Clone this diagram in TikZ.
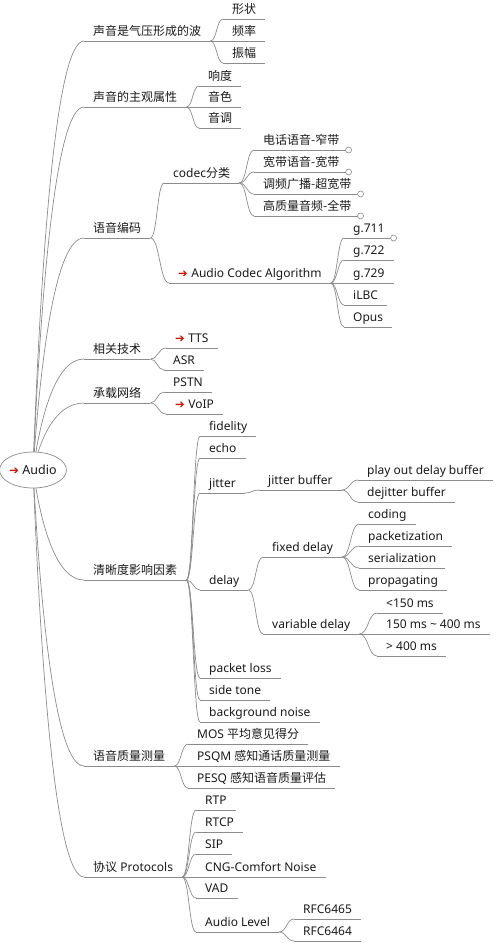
\documentclass[tikz,border=0pt]{standalone}
\usepackage{fontspec}
\setmainfont{Noto Sans}
\newfontfamily\cjk{Noto Sans CJK SC}
\newfontfamily\symf{DejaVu Sans}
\usetikzlibrary{calc,shapes.geometric}
\definecolor{linec}{HTML}{8C8C8C}
\definecolor{txtc}{HTML}{1A1A1A}
\definecolor{arrc}{HTML}{CC1100}
\newcommand{\ra}{{\symf\color{arrc}\fontsize{11.5}{11.5}\selectfont ➔}\hspace{3.5pt}}
\newcommand{\zh}[1]{{\cjk #1}}
\newcommand{\conn}[2]{\draw[edge] let \p1=(#1.south east), \p2=(#2.south west) in (\p1) .. controls ({0.5*(\x1+\x2)},\y1) and ({0.5*(\x1+\x2)},\y2) .. (\p2);}
\newcommand{\rconn}[1]{\draw[edge] let \p1=(rc), \p2=(#1.south west) in (\p1) .. controls ({\x1+8pt},{0.5*(\y1+\y2)}) and ({\x2-28pt},\y2) .. (\p2);}
\begin{document}
\begin{tikzpicture}[x=1pt,y=-1pt,
  edge/.style={draw=linec, line width=0.7pt},
  item/.style={anchor=south west, inner xsep=9pt, inner ysep=2pt, text height=9pt, text depth=3pt,
    font=\fontsize{12}{14}\selectfont, text=txtc,
    append after command={\pgfextra{\draw[edge] (\tikzlastnode.south west) -- (\tikzlastnode.south east);}}},
  dot/.style={circle, draw=linec, fill=white, line width=0.6pt, minimum size=6pt, inner sep=0pt},
  rootst/.style={ellipse, draw=linec, fill=white, line width=0.7pt, minimum width=66pt, minimum height=36pt, inner sep=0pt,
    font=\fontsize{12.5}{14}\selectfont, text=txtc}]
\useasboundingbox (0,0) rectangle (497,943);
\coordinate (rc) at (33,470);
% level 1
\node[item] (A1) at (84,41) {\zh{声音是气压形成的波}};
\node[item] (A2) at (84,107) {\zh{声音的主观属性}};
\node[item] (A3) at (84,238) {\zh{语音编码}};
\node[item] (A4) at (84,359) {\zh{相关技术}};
\node[item] (A5) at (84,403) {\zh{承载网络}};
\node[item] (A6) at (84,580) {\zh{清晰度影响因素}};
\node[item] (A7) at (84,766) {\zh{语音质量测量}};
\node[item] (A8) at (84,877) {\zh{协议} Protocols};
% A1
\node[item] (B11) at (223,19) {\zh{形状}};
\node[item] (B12) at (223,41) {\zh{频率}};
\node[item] (B13) at (223,63) {\zh{振幅}};
% A2
\node[item] (B21) at (199,86) {\zh{响度}};
\node[item] (B22) at (199,107) {\zh{音色}};
\node[item] (B23) at (199,128) {\zh{音调}};
% A3
\node[item] (B31) at (164,183) {codec\zh{分类}};
\node[item] (B32) at (169,283) {\ra Audio Codec Algorithm};
\node[item] (C1) at (254,150) {\zh{电话语音-窄带}};
\node[item] (C2) at (254,172) {\zh{宽带语音-宽带}};
\node[item] (C3) at (254,194) {\zh{调频广播-超宽带}};
\node[item] (C4) at (254,216) {\zh{高质量音频-全带}};
\node[item] (D1) at (344,238) {g.711};
\node[item] (D2) at (344,260) {g.722};
\node[item] (D3) at (344,283) {g.729};
\node[item] (D4) at (344,305) {iLBC};
\node[item] (D5) at (344,327) {Opus};
% A4, A5
\node[item] (E1) at (166,348) {\ra TTS};
\node[item] (E2) at (164,370) {ASR};
\node[item] (F1) at (164,392) {PSTN};
\node[item] (F2) at (166,414) {\ra VoIP};
% A6
\node[item] (G1) at (200,436) {fidelity};
\node[item] (G2) at (200,458) {echo};
\node[item] (G3) at (200,493) {jitter};
\node[item] (G4) at (200,590) {delay};
\node[item] (G5) at (200,678) {packet loss};
\node[item] (G6) at (200,700) {side tone};
\node[item] (G7) at (200,722) {background noise};
\node[item] (H) at (259,490) {jitter buffer};
\node[item] (H1) at (358,480) {play out delay buffer};
\node[item] (H2) at (358,502) {dejitter buffer};
\node[item] (I) at (263,557) {fixed delay};
\node[item] (J) at (263,634) {variable delay};
\node[item] (I1) at (359,524) {coding};
\node[item] (I2) at (359,546) {packetization};
\node[item] (I3) at (359,568) {serialization};
\node[item] (I4) at (359,590) {propagating};
\node[item] (J1) at (377,613) {<150 ms};
\node[item] (J2) at (377,634) {150 ms \textasciitilde\ 400 ms};
\node[item] (J3) at (377,656) {> 400 ms};
% A7
\node[item] (K1) at (188,744) {MOS \zh{平均意见得分}};
\node[item] (K2) at (188,766) {PSQM \zh{感知通话质量测量}};
\node[item] (K3) at (188,788) {PESQ \zh{感知语音质量评估}};
% A8
\node[item] (L1) at (196,810) {RTP};
\node[item] (L2) at (196,832) {RTCP};
\node[item] (L3) at (196,854) {SIP};
\node[item] (L4) at (196,877) {CNG-Comfort Noise};
\node[item] (L5) at (196,898) {VAD};
\node[item] (L6) at (196,932) {Audio Level};
\node[item] (M1) at (294,919) {RFC6465};
\node[item] (M2) at (294,941) {RFC6464};
% connectors
\foreach \nd in {A1,A2,A3,A4,A5,A6,A7,A8} {\rconn{\nd}}
\foreach \nd in {B11,B12,B13} {\conn{A1}{\nd}}
\foreach \nd in {B21,B22,B23} {\conn{A2}{\nd}}
\foreach \nd in {B31,B32} {\conn{A3}{\nd}}
\foreach \nd in {C1,C2,C3,C4} {\conn{B31}{\nd}}
\foreach \nd in {D1,D2,D3,D4,D5} {\conn{B32}{\nd}}
\foreach \nd in {E1,E2} {\conn{A4}{\nd}}
\foreach \nd in {F1,F2} {\conn{A5}{\nd}}
\foreach \nd in {G1,G2,G3,G4,G5,G6,G7} {\conn{A6}{\nd}}
\conn{G3}{H}
\foreach \nd in {H1,H2} {\conn{H}{\nd}}
\foreach \nd in {I,J} {\conn{G4}{\nd}}
\foreach \nd in {I1,I2,I3,I4} {\conn{I}{\nd}}
\foreach \nd in {J1,J2,J3} {\conn{J}{\nd}}
\foreach \nd in {K1,K2,K3} {\conn{A7}{\nd}}
\foreach \nd in {L1,L2,L3,L4,L5,L6} {\conn{A8}{\nd}}
\foreach \nd in {M1,M2} {\conn{L6}{\nd}}
% collapse markers
\foreach \nd in {C1,C2,C3,C4,D1} {\node[dot] (o\nd) at (\nd.south east) {};}
% root
\node[rootst] (root) at (rc) {\ra Audio};
\end{tikzpicture}
\end{document}
